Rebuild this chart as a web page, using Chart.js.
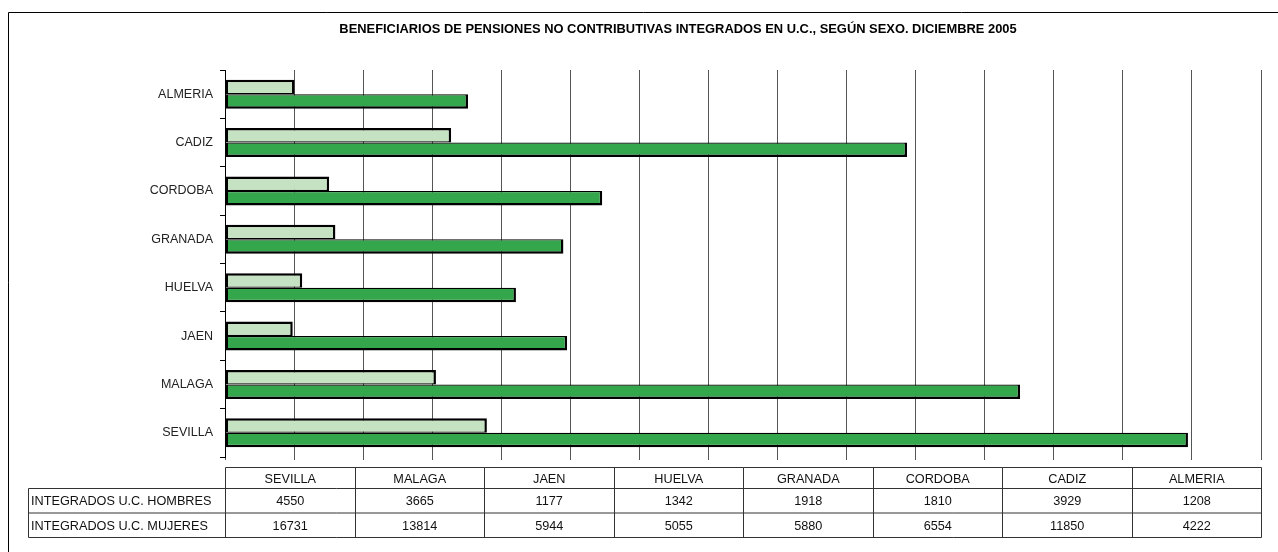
<!DOCTYPE html>
<html>
<head>
<meta charset="utf-8">
<script src="https://cdn.jsdelivr.net/npm/chart.js@4.4.1/dist/chart.umd.min.js"></script>
<style>
  html, body { margin: 0; padding: 0; background: #fff; }
  #wrap { width: 1278px; height: 552px; }
</style>
</head>
<body>
<div id="wrap"><canvas id="pensionChart" width="1278" height="552"></canvas></div>
<script>
// table order (Excel order, first category drawn at the bottom)
var provinces = ['SEVILLA', 'MALAGA', 'JAEN', 'HUELVA', 'GRANADA', 'CORDOBA', 'CADIZ', 'ALMERIA'];
var hombres = [4550, 3665, 1177, 1342, 1918, 1810, 3929, 1208];
var mujeres = [16731, 13814, 5944, 5055, 5880, 6554, 11850, 4222];
var seriesNames = ['INTEGRADOS U.C. HOMBRES', 'INTEGRADOS U.C. MUJERES'];
var chartTitle = 'BENEFICIARIOS DE PENSIONES NO CONTRIBUTIVAS INTEGRADOS EN U.C., SEGÚN SEXO. DICIEMBRE 2005';
var axisMax = 18000;
var axisStep = 1200;

var FONT = '"Liberation Sans", Arial, sans-serif';

function reversed(arr) {
  return arr.slice().reverse();
}

// title, frame and the data table under the plot
var tablePlugin = {
  id: 'tablePlugin',
  afterDraw: function(chart) {
    var ctx = chart.ctx;
    var area = chart.chartArea;
    ctx.save();

    ctx.strokeStyle = '#000';
    ctx.lineWidth = 1;
    ctx.beginPath();
    ctx.moveTo(8.5, 600);
    ctx.lineTo(8.5, 12.5);
    ctx.lineTo(1300, 12.5);
    ctx.stroke();

    ctx.fillStyle = '#000';
    ctx.font = 'bold 12.9px ' + FONT;
    ctx.textAlign = 'center';
    ctx.textBaseline = 'middle';
    ctx.fillText(chartTitle, 678, 29);

    var left = Math.round(area.left) + 0.5;
    var right = Math.round(area.right) + 0.5;
    var labelLeft = 28.5;
    var colW = (right - left) / provinces.length;
    var rows = [467.5, 488.5, 513, 537.5];

    ctx.strokeStyle = '#333';
    ctx.beginPath();
    ctx.moveTo(left, rows[0]);
    ctx.lineTo(right, rows[0]);
    ctx.moveTo(labelLeft, rows[1]);
    ctx.lineTo(right, rows[1]);
    ctx.moveTo(labelLeft, rows[2]);
    ctx.lineTo(right, rows[2]);
    ctx.moveTo(labelLeft, rows[3]);
    ctx.lineTo(right, rows[3]);
    ctx.moveTo(labelLeft, rows[1]);
    ctx.lineTo(labelLeft, rows[3]);
    for (var i = 0; i <= provinces.length; i++) {
      var x = Math.round(left + colW * i - 0.5) + 0.5;
      ctx.moveTo(x, rows[0]);
      ctx.lineTo(x, rows[3]);
    }
    ctx.stroke();

    ctx.fillStyle = '#111';
    ctx.font = '12.7px ' + FONT;
    ctx.textAlign = 'center';
    var values = [hombres, mujeres];
    for (var c = 0; c < provinces.length; c++) {
      var cx = left + colW * (c + 0.5);
      ctx.fillText(provinces[c], cx, (rows[0] + rows[1]) / 2 + 1);
      ctx.fillText(String(values[0][c]), cx, (rows[1] + rows[2]) / 2 + 1);
      ctx.fillText(String(values[1][c]), cx, (rows[2] + rows[3]) / 2 + 1);
    }
    ctx.textAlign = 'left';
    ctx.fillText(seriesNames[0], 31, (rows[1] + rows[2]) / 2 + 1);
    ctx.fillText(seriesNames[1], 31, (rows[2] + rows[3]) / 2 + 1);

    ctx.restore();
  }
};

var ctx = document.getElementById('pensionChart');
var pensionChart = new Chart(ctx, {
  type: 'bar',
  data: {
    labels: reversed(provinces),
    datasets: [{
      label: seriesNames[0],
      data: reversed(hombres),
      backgroundColor: '#c5e3c2',
      borderColor: '#000',
      borderWidth: { top: 2.5, left: 2.5, right: 2.5, bottom: 1.25 },
      borderSkipped: false,
      categoryPercentage: 0.6,
      barPercentage: 1
    }, {
      label: seriesNames[1],
      data: reversed(mujeres),
      backgroundColor: '#34a64b',
      borderColor: '#000',
      borderWidth: { top: 1.25, left: 2.5, right: 2.5, bottom: 2.5 },
      borderSkipped: false,
      categoryPercentage: 0.6,
      barPercentage: 1
    }]
  },
  options: {
    indexAxis: 'y',
    responsive: false,
    animation: false,
    devicePixelRatio: 1,
    layout: { padding: { left: 0, right: 17, top: 70, bottom: 85 } },
    scales: {
      x: {
        min: 0,
        max: axisMax,
        afterFit: function(scale) { scale.height = 10; },
        ticks: { display: false, stepSize: axisStep },
        grid: { color: '#555', lineWidth: 1, tickLength: 3 },
        border: { display: false }
      },
      y: {
        afterFit: function(scale) { scale.width = 225; },
        ticks: { color: '#222', font: { family: FONT, size: 12.5 }, padding: 7 },
        grid: { drawOnChartArea: false, color: '#000', tickLength: 5 },
        border: { display: true, color: '#000', width: 1 }
      }
    },
    plugins: {
      legend: { display: false },
      title: { display: false },
      tooltip: { enabled: false }
    }
  },
  plugins: [tablePlugin]
});
</script>
</body>
</html>
